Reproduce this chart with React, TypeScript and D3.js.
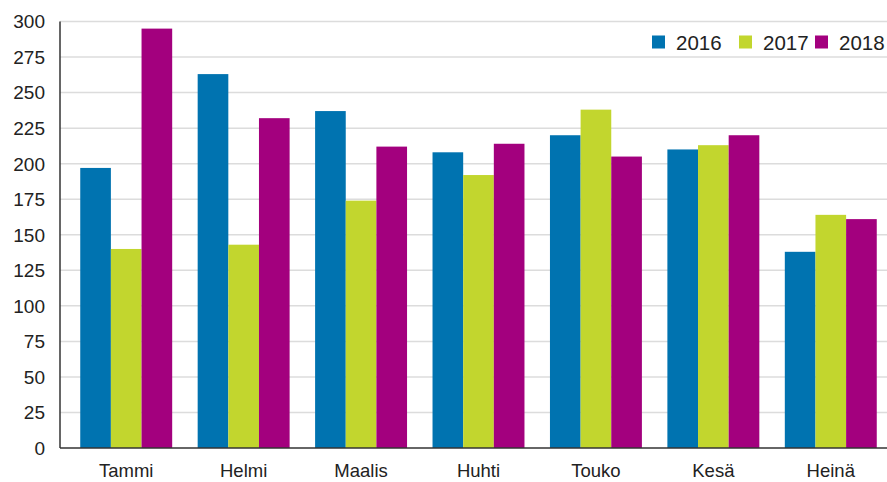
import React from "react";
import * as d3 from "d3";

const months = ["Tammi", "Helmi", "Maalis", "Huhti", "Touko", "Kesä", "Heinä"];
const seriesNames = ["2016", "2017", "2018"];
const values2016 = [197, 263, 237, 208, 220, 210, 138];
const values2017 = [140, 143, 174, 192, 238, 213, 164];
const values2018 = [295, 232, 212, 214, 205, 220, 161];
const yTicks = [0, 25, 50, 75, 100, 125, 150, 175, 200, 225, 250, 275, 300];
const colors = ["#0073b0", "#c2d62e", "#a3007e"];

export default function App() {
  const W = 887, H = 482;
  const left = 60, right = 887, top = 21.5, bottom = 448;
  const series = [values2016, values2017, values2018];
  const y = d3.scaleLinear().domain([0, 300]).range([bottom, top]);
  const x0 = d3.scaleBand<string>().domain(months).range([67.5, 889.5]).paddingInner(0.217).paddingOuter(0.1085);
  const x1 = d3.scaleBand<string>().domain(seriesNames).range([0, x0.bandwidth()]).padding(0);
  const font = "Arial, 'Liberation Sans', sans-serif";
  const legendX = [652, 739, 815];
  return (
    <svg width={W} height={H} style={{ position: "absolute", left: 0, top: 0 }} fontFamily={font}>
      {yTicks.map((t) => (
        <g key={t}>
          {t > 0 && <line x1={left} x2={right} y1={y(t)} y2={y(t)} stroke="#dcdcdc" strokeWidth={1.5} />}
          <text x={45} y={y(t)} dy="0.36em" textAnchor="end" fontSize={19} fill="#222">{t}</text>
        </g>
      ))}
      {months.map((m, i) => (
        <g key={m} transform={`translate(${x0(m)},0)`}>
          {seriesNames.map((s, j) => (
            <rect key={s} x={x1(s)} y={y(series[j][i])} width={x1.bandwidth()} height={bottom - y(series[j][i])} fill={colors[j]} />
          ))}
          <text x={x0.bandwidth() / 2} y={477} textAnchor="middle" fontSize={18.5} fill="#222">{m}</text>
        </g>
      ))}
      <line x1={left} x2={left} y1={top} y2={bottom} stroke="#333" strokeWidth={1.5} />
      <line x1={left} x2={right} y1={bottom} y2={bottom} stroke="#333" strokeWidth={1.5} />
      {seriesNames.map((s, j) => (
        <g key={s}>
          <rect x={legendX[j]} y={35.5} width={13} height={13} fill={colors[j]} />
          <text x={legendX[j] + 24} y={50} fontSize={20.5} fill="#222">{s}</text>
        </g>
      ))}
    </svg>
  );
}
